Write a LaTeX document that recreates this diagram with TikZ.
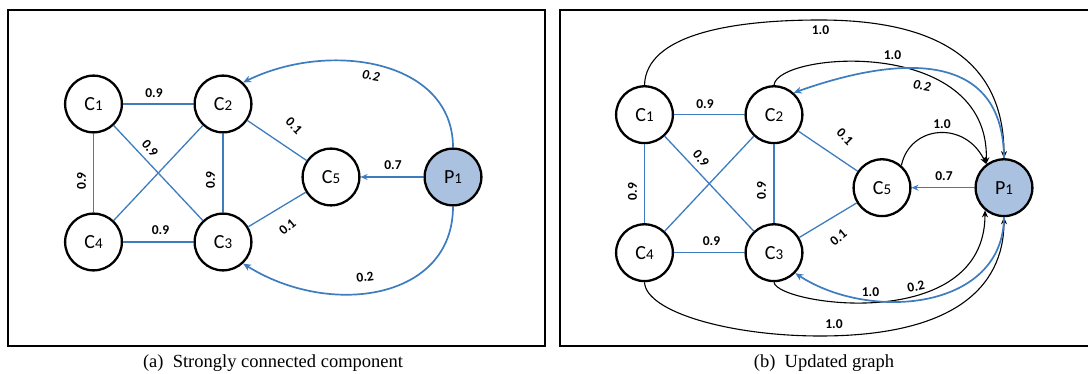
\documentclass[tikz,border=0pt]{standalone}
\usepackage{fontspec}
\setmainfont{Liberation Serif}
\newfontfamily\carl{Carlito}
\usetikzlibrary{arrows.meta}
\definecolor{eblue}{RGB}{62,124,192}
\definecolor{pfill}{RGB}{171,193,224}
\newcommand\nlab[2]{#1{\fontsize{15}{16}\selectfont #2}}
\tikzset{
  vtx/.style={circle, draw=black, line width=2.3pt, minimum size=56.8pt, inner sep=0pt, fill=white, font=\carl\fontsize{20}{22}\selectfont},
  pvtx/.style={vtx, fill=pfill},
  bl/.style={draw=eblue, line width=1.3pt},
  blarr/.style={bl, -{Stealth[length=7pt,width=6pt]}},
  barc/.style={draw=eblue, line width=1.7pt, -{Stealth[length=8pt,width=7pt]}},
  karc/.style={draw=black, line width=1.1pt, -{Stealth[length=7pt,width=6pt]}},
  lab/.style={font=\carl\bfseries\fontsize{13.5}{14}\selectfont, inner sep=0pt},
  ilab/.style={font=\carl\bfseries\itshape\fontsize{13.5}{14}\selectfont, inner sep=0pt},
  frm/.style={draw=black, line width=2.7pt},
  captxt/.style={font=\fontsize{18.5}{20}\selectfont, inner sep=0pt}
}
\newcommand\basegraph[3]{%
\begin{scope}[shift={(#2,#3)}]
  \node[vtx] (#1C1) at (93.5,104) {\nlab{C}{1}};
  \node[vtx] (#1C2) at (223,104) {\nlab{C}{2}};
  \node[vtx] (#1C4) at (93.5,242) {\nlab{C}{4}};
  \node[vtx] (#1C3) at (223,242) {\nlab{C}{3}};
  \node[vtx] (#1C5) at (331,177) {\nlab{C}{5}};
  \node[pvtx] (#1P1) at (453,177) {\nlab{P}{1}};
  \draw[bl] (#1C1) -- (#1C2);
  \draw[bl] (#1C1) -- (#1C4);
  \draw[bl] (#1C1) -- (#1C3);
  \draw[bl] (#1C2) -- (#1C4);
  \draw[bl] (#1C2) -- (#1C3);
  \draw[bl] (#1C4) -- (#1C3);
  \draw[bl] (#1C2) -- (#1C5);
  \draw[bl] (#1C3) -- (#1C5);
  \draw[blarr] (#1P1) -- (#1C5);
  \node[lab] (#1l1) at (154,93) {0.9};
  \node[lab, rotate=-50] (#1l2) at (150,148) {0.9};
  \node[lab, rotate=90] (#1l3) at (81.5,181) {0.9};
  \node[lab, rotate=90] (#1l4) at (210.5,180) {0.9};
  \node[lab] (#1l5) at (160.5,230) {0.9};
  \node[lab, rotate=-45] (#1l6) at (294,126) {0.1};
  \node[lab, rotate=40] (#1l7) at (287.5,227) {0.1};
  \node[lab] (#1l8) at (393,165) {0.7};
\end{scope}}
\begin{document}
\begin{tikzpicture}[x=1pt, y=-1pt]
  \useasboundingbox (0,0) rectangle (1088,374);
  \draw[frm] (8,10) rectangle (545,346);
  \draw[frm] (560,10) rectangle (1100,346);
  % panel (a)
  \basegraph{a}{0}{0}
  \draw[barc] (aP1.north) .. controls (453,60) and (330,40) .. (aC2.47);
  \draw[barc] (aP1.south) .. controls (453,300) and (330,318) .. (aC3.-47);
  \node[ilab, rotate=-10] (at1) at (371,76) {0.2};
  \node[lab, rotate=8] (at2) at (365,277) {0.2};
  \node[captxt] (capa) at (273,363) {(a)\enskip Strongly connected component};
  % panel (b)
  \basegraph{b}{551}{10.7}
  \draw[karc] (bC1.north) .. controls (646,35) and (730,20) .. (820,20) .. controls (950,20) and (1004,70) .. (bP1.north);
  \draw[karc] (bC2.north) .. controls (777,52) and (990,35) .. (bP1.127);
  \draw[karc] (bC5.49) .. controls (910,125) and (965,120) .. (bP1.127);
  \draw[karc] (bC3.south) .. controls (777,305) and (985,335) .. (bP1.230);
  \draw[karc] (bC4.south) .. controls (646,312) and (730,336) .. (820,336) .. controls (950,336) and (1004,290) .. (bP1.south);
  \draw[barc] (bP1.north) .. controls (1003,50) and (900,55) .. (bC2.48);
  \draw[barc] (bP1.south) .. controls (1003,310) and (870,322) .. (bC3.-44);
  \node[lab] (bt1) at (820.5,30) {1.0};
  \node[lab] (bt2) at (892.5,55) {1.0};
  \node[ilab, rotate=-10] (bt3) at (922,86) {0.2};
  \node[lab] (bt4) at (942,124) {1.0};
  \node[lab] (bt5) at (870.5,292.5) {1.0};
  \node[lab, rotate=12] (bt6) at (916,286.5) {0.2};
  \node[lab] (bt7) at (834,324.5) {1.0};
  \node[captxt] (capb) at (824,363) {(b)\enskip Updated graph};
\end{tikzpicture}
\end{document}
